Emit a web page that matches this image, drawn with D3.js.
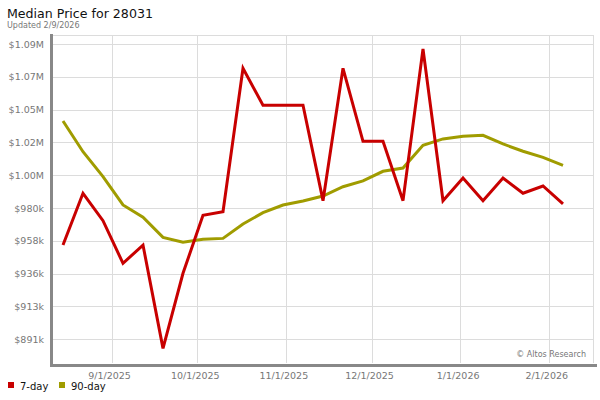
<!DOCTYPE html>
<html><head><meta charset="utf-8">
<script src="https://cdn.jsdelivr.net/npm/d3@7/dist/d3.min.js"></script>
<style>body{margin:0;background:#fff}svg{display:block;font-family:"DejaVu Sans",Verdana,sans-serif}</style>
</head><body><svg id="c" width="600" height="400"></svg>
<script>
const dates = ["2025-08-15","2025-08-22","2025-08-29","2025-09-05","2025-09-12","2025-09-19","2025-09-26","2025-10-03","2025-10-10","2025-10-17","2025-10-24","2025-10-31","2025-11-07","2025-11-14","2025-11-21","2025-11-28","2025-12-05","2025-12-12","2025-12-19","2025-12-26","2026-01-02","2026-01-09","2026-01-16","2026-01-23","2026-01-30","2026-02-06"];
const day7 = [954900,989800,971300,942600,954900,885300,935900,974900,977400,1074000,1049100,1049100,1049100,984800,1074000,1024800,1024800,984800,1087000,984800,1000100,984800,1000100,989800,994700,982600];
const day90 = [1038500,1017800,1001000,981900,973600,960100,956800,958800,959400,969100,976700,981900,984600,987900,994200,998100,1004600,1006800,1022100,1026400,1028200,1028800,1023000,1018100,1014000,1008600];
const yTickValues = [891400,913500,935600,957700,979800,1001900,1024000,1046100,1068200,1090300];
const yTickLabels = ["$891k","$913k","$936k","$958k","$980k","$1.00M","$1.02M","$1.05M","$1.07M","$1.09M"];
const xTickDates = ["2025-09-01","2025-10-01","2025-11-01","2025-12-01","2026-01-01","2026-02-01"];
const xTickLabels = ["9/1/2025","10/1/2025","11/1/2025","12/1/2025","1/1/2026","2/1/2026"];
const seriesNames = ["7-day","90-day"];
const colors = ["#c80000","#a09c00"];

const svg = d3.select("#c");
const L=53, R=593, T=35, B=363;
const parse = s => new Date(s+"T00:00:00Z");
const x = d3.scaleUtc().domain([new Date(Date.UTC(2025,7,11,12)), new Date(Date.UTC(2026,1,16,12))]).range([L,R]);
const y = d3.scaleLinear().domain([875432,1096426]).range([B,T]);

// title
svg.append("text").attr("x",7).attr("y",18).attr("font-size",12.6).attr("fill","#111").text("Median Price for 28031");
svg.append("text").attr("x",7).attr("y",28).attr("font-size",8).attr("fill","#777").text("Updated 2/9/2026");

// grid
const g = svg.append("g");
g.selectAll(".hg").data(yTickValues).join("line")
  .attr("x1",L).attr("x2",R).attr("y1",d=>Math.round(y(d))+0.5).attr("y2",d=>Math.round(y(d))+0.5)
  .attr("stroke","#dcdcdc");
g.selectAll(".vg").data(xTickDates).join("line")
  .attr("x1",d=>Math.round(x(parse(d)))+0.5).attr("x2",d=>Math.round(x(parse(d)))+0.5).attr("y1",T).attr("y2",B)
  .attr("stroke","#dcdcdc");
g.append("line").attr("x1",L).attr("x2",R).attr("y1",T+0.5).attr("y2",T+0.5).attr("stroke","#dcdcdc");
g.append("line").attr("x1",R+0.5).attr("x2",R+0.5).attr("y1",T).attr("y2",B).attr("stroke","#dcdcdc");

// axes bars
svg.append("rect").attr("x",50).attr("y",34).attr("width",3).attr("height",333).attr("fill","#888");
svg.append("rect").attr("x",50).attr("y",364).attr("width",547).attr("height",3).attr("fill","#888");

// y labels
svg.selectAll(".yl").data(yTickValues).join("text")
  .attr("x",44).attr("y",d=>y(d)+3.5).attr("text-anchor","end").attr("font-size",9.5).attr("fill","#777")
  .text((d,i)=>yTickLabels[i]);
// x labels
svg.selectAll(".xl").data(xTickDates).join("text")
  .attr("x",d=>x(parse(d))-2).attr("y",379).attr("text-anchor","middle").attr("font-size",9.5).attr("fill","#777")
  .text((d,i)=>xTickLabels[i]);

// watermark
svg.append("text").attr("x",586).attr("y",357).attr("text-anchor","end").attr("font-size",8).attr("fill","#777").text("© Altos Research");

// lines
const line = d3.line().x((d,i)=>x(parse(dates[i]))).y(d=>y(d));
[day90, day7].forEach((s,k)=>{
  svg.append("path").datum(s).attr("d",line).attr("fill","none")
    .attr("stroke", k===0?colors[1]:colors[0]).attr("stroke-width",3).attr("stroke-linejoin","miter");
});

// legend
const lx=[8,59];
seriesNames.forEach((n,i)=>{
  svg.append("rect").attr("x",lx[i]).attr("y",382).attr("width",6).attr("height",6).attr("fill",colors[i]);
  svg.append("text").attr("x",lx[i]+12).attr("y",390).attr("font-size",10).attr("fill","#111").text(n);
});
</script></body></html>
